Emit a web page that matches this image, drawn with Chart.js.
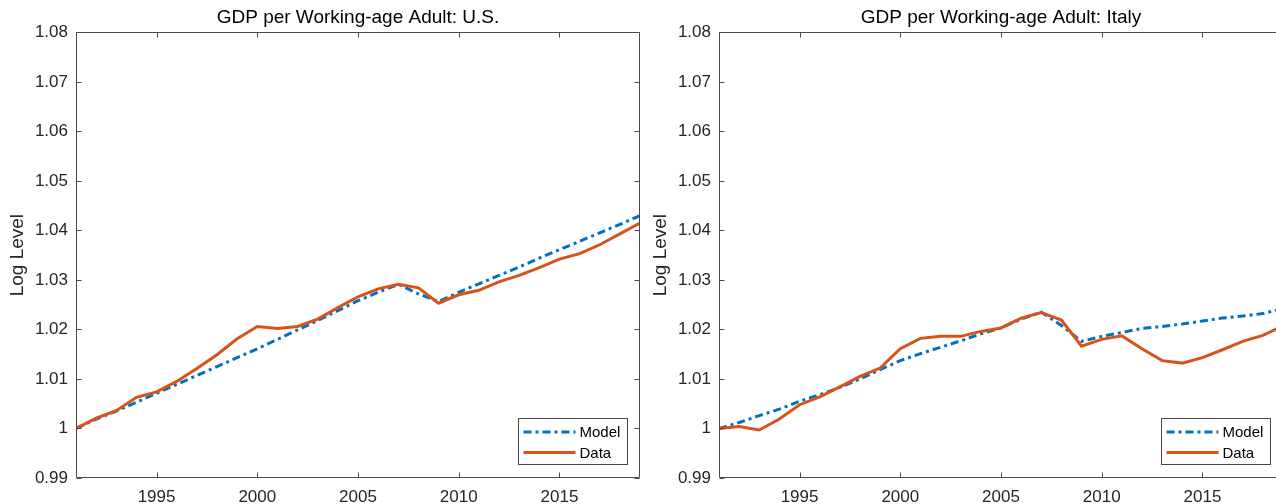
<!DOCTYPE html>
<html>
<head>
<meta charset="utf-8">
<title>GDP per Working-age Adult</title>
<script src="https://cdn.jsdelivr.net/npm/chart.js@4.4.0/dist/chart.umd.min.js"></script>
<style>
  html, body { margin: 0; padding: 0; background: #fff; overflow: hidden; }
  .panel { position: absolute; top: 0; width: 640px; height: 504px; }
  #left { left: 0; }
  #right { left: 643px; }
</style>
</head>
<body>
<div class="panel" id="left"><canvas id="usChart" width="640" height="504"></canvas></div>
<div class="panel" id="right"><canvas id="itChart" width="640" height="504"></canvas></div>
<script>
'use strict';

const years = [1991, 1992, 1993, 1994, 1995, 1996, 1997, 1998, 1999, 2000,
  2001, 2002, 2003, 2004, 2005, 2006, 2007, 2008, 2009, 2010,
  2011, 2012, 2013, 2014, 2015, 2016, 2017, 2018, 2019];

const usModel = [1.0000, 1.0019, 1.0035, 1.0053, 1.0071, 1.0089, 1.0107, 1.0125, 1.0143, 1.0161,
  1.0180, 1.0199, 1.0218, 1.0238, 1.0258, 1.0275, 1.0291, 1.0272, 1.0256, 1.0275,
  1.0292, 1.0309, 1.0326, 1.0344, 1.0361, 1.0378, 1.0395, 1.0412, 1.0430];
const usData = [1.0000, 1.0021, 1.0036, 1.0063, 1.0074, 1.0095, 1.0121, 1.0149, 1.0181, 1.0206,
  1.0202, 1.0206, 1.0221, 1.0244, 1.0266, 1.0282, 1.0291, 1.0284, 1.0253, 1.0270,
  1.0279, 1.0296, 1.0309, 1.0325, 1.0342, 1.0353, 1.0371, 1.0393, 1.0415];

const itModel = [1.0000, 1.0012, 1.0026, 1.0039, 1.0055, 1.0068, 1.0083, 1.0100, 1.0119, 1.0137,
  1.0151, 1.0164, 1.0177, 1.0191, 1.0203, 1.0221, 1.0235, 1.0208, 1.0176, 1.0186,
  1.0194, 1.0202, 1.0206, 1.0211, 1.0217, 1.0223, 1.0227, 1.0232, 1.0242];
const itData = [1.0000, 1.0004, 0.9997, 1.0019, 1.0048, 1.0064, 1.0084, 1.0105, 1.0122, 1.0161,
  1.0182, 1.0186, 1.0186, 1.0196, 1.0203, 1.0223, 1.0234, 1.0219, 1.0166, 1.0180,
  1.0187, 1.0161, 1.0137, 1.0132, 1.0143, 1.0159, 1.0176, 1.0188, 1.0207];

const seriesNames = ['Model', 'Data'];
const xTickValues = [1995, 2000, 2005, 2010, 2015];
const yTickValues = [0.99, 1, 1.01, 1.02, 1.03, 1.04, 1.05, 1.06, 1.07, 1.08];

const FONT = "'Liberation Sans', Arial, Helvetica, sans-serif";
const AXIS_COLOR = '#4a4a4a';
const TEXT_COLOR = '#262626';

// box round the axes, with inward ticks on all four sides (MATLAB look)
const boxPlugin = {
  id: 'boxPlugin',
  afterDatasetsDraw(chart) {
    const { ctx, chartArea: a, scales } = chart;
    const l = Math.floor(a.left) + 0.5, r = Math.ceil(a.right) - 0.5;
    const t = Math.floor(a.top) + 0.5, b = Math.ceil(a.bottom) - 0.5;
    const len = 5;
    ctx.save();
    ctx.strokeStyle = AXIS_COLOR;
    ctx.lineWidth = 1;
    ctx.beginPath();
    ctx.rect(l, t, r - l, b - t);
    xTickValues.forEach(v => {
      const px = Math.round(scales.x.getPixelForValue(v)) + 0.5;
      ctx.moveTo(px, b); ctx.lineTo(px, b - len);
      ctx.moveTo(px, t); ctx.lineTo(px, t + len);
    });
    yTickValues.forEach(v => {
      const py = Math.round(scales.y.getPixelForValue(v)) + 0.5;
      ctx.moveTo(l, py); ctx.lineTo(l + len, py);
      ctx.moveTo(r, py); ctx.lineTo(r - len, py);
    });
    ctx.stroke();
    ctx.restore();
  }
};

// legend box in the lower right corner of the axes
const legendPlugin = {
  id: 'legendPlugin',
  afterDraw(chart) {
    const { ctx, chartArea: a } = chart;
    const w = 109, h = 46;
    const x0 = Math.round(a.right - 13 - w) + 0.5;
    const y0 = Math.round(a.bottom - 14.5 - h) + 0.5;
    ctx.save();
    ctx.fillStyle = '#fff';
    ctx.fillRect(x0, y0, w, h);
    ctx.strokeStyle = AXIS_COLOR;
    ctx.lineWidth = 1;
    ctx.strokeRect(x0, y0, w, h);
    ctx.font = '15px ' + FONT;
    ctx.textBaseline = 'middle';
    ctx.fillStyle = '#000';
    chart.data.datasets.forEach((ds, i) => {
      const yy = y0 + 13.5 + i * 20.5;
      ctx.beginPath();
      ctx.strokeStyle = ds.borderColor;
      ctx.lineWidth = ds.borderWidth;
      ctx.setLineDash(ds.borderDash || []);
      ctx.moveTo(x0 + 5, yy);
      ctx.lineTo(x0 + 57, yy);
      ctx.stroke();
      ctx.setLineDash([]);
      ctx.fillText(ds.label, x0 + 61, yy + 1);
    });
    ctx.restore();
  }
};

function makeChart(canvasId, titleText, model, data) {
  const chartData = {
    datasets: [
      {
        label: seriesNames[0],
        data: years.map((yr, i) => ({ x: yr, y: model[i] })),
        borderColor: '#0072BD',
        borderWidth: 3,
        borderDash: [8, 4, 3, 4],
        order: 1
      },
      {
        label: seriesNames[1],
        data: years.map((yr, i) => ({ x: yr, y: data[i] })),
        borderColor: '#D95319',
        borderWidth: 3,
        order: 0
      }
    ]
  };

  const chartConfig = {
    type: 'line',
    data: chartData,
    options: {
      responsive: false,
      animation: false,
      layout: { padding: 0 },
      elements: {
        point: { radius: 0 },
        line: { tension: 0, fill: false, borderCapStyle: 'butt' }
      },
      plugins: {
        legend: { display: false },
        tooltip: { enabled: false },
        title: {
          display: true,
          text: titleText,
          fullSize: false,
          color: '#000',
          font: { family: FONT, size: 19, weight: 'normal' },
          padding: { top: 6.5, bottom: 3 }
        }
      },
      scales: {
        x: {
          type: 'linear',
          min: 1991,
          max: 2019,
          afterBuildTicks: scale => { scale.ticks = xTickValues.map(v => ({ value: v })); },
          afterFit: scale => { scale.height = 26; },
          grid: { display: false, drawTicks: false },
          border: { display: false },
          ticks: {
            padding: 9,
            color: TEXT_COLOR,
            font: { family: FONT, size: 17 },
            maxRotation: 0,
            callback: v => String(v)
          }
        },
        y: {
          min: 0.99,
          max: 1.08,
          afterBuildTicks: scale => { scale.ticks = yTickValues.map(v => ({ value: v })); },
          afterFit: scale => { scale.width = 76; },
          grid: { display: false, drawTicks: false },
          border: { display: false },
          title: {
            display: true,
            text: 'Log Level',
            color: TEXT_COLOR,
            font: { family: FONT, size: 19 },
            padding: { top: 6.6, bottom: 0 }
          },
          ticks: {
            padding: 8,
            color: TEXT_COLOR,
            font: { family: FONT, size: 17 },
            callback: v => String(parseFloat(Number(v).toFixed(2)))
          }
        }
      }
    },
    plugins: [boxPlugin, legendPlugin]
  };

  return new Chart(document.getElementById(canvasId).getContext('2d'), chartConfig);
}

makeChart('usChart', 'GDP per Working-age Adult: U.S.', usModel, usData);
makeChart('itChart', 'GDP per Working-age Adult: Italy', itModel, itData);
</script>
</body>
</html>
